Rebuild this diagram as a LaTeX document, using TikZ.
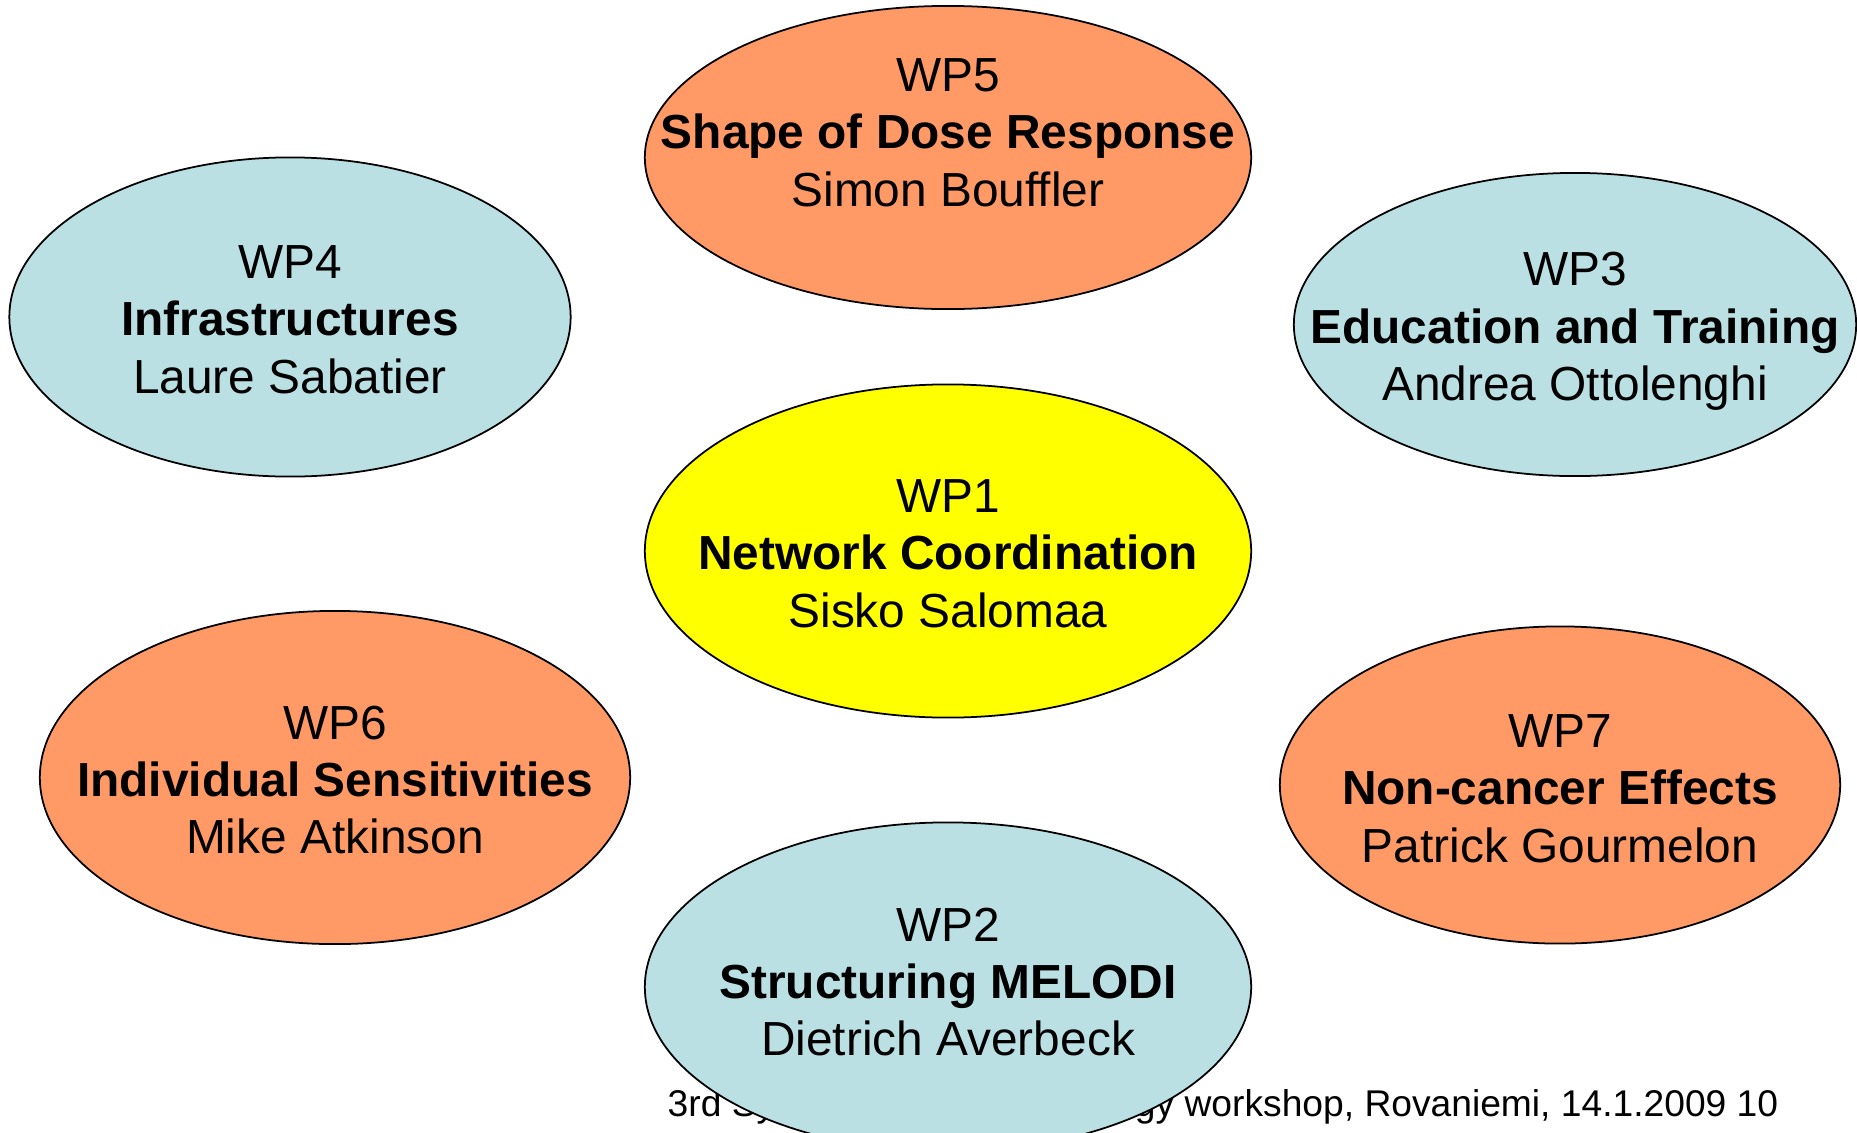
\documentclass[tikz,border=0pt]{standalone}
\usepackage{fontspec}
\setmainfont{Liberation Sans}
\usetikzlibrary{shapes.geometric}
\definecolor{wporange}{HTML}{FF9966}
\definecolor{wpblue}{HTML}{BBE0E3}
\definecolor{wpyellow}{HTML}{FFFF00}
\tikzset{
  wp/.style={ellipse, draw=black, line width=0.5pt, inner sep=0pt},
  wptext/.style={align=center, inner sep=0pt, font=\fontsize{13.6}{16.3}\selectfont},
}

\begin{document}
\begin{tikzpicture}[x=0.01cm,y=-0.01cm]
\useasboundingbox (0,0) rectangle (1857,1133);

% footer, partly under WP2
\node[anchor=base west, inner sep=0pt, font=\fontsize{10.58}{12.7}\selectfont] (foot) at (667,1116) {3rd Systems Radiation Biology workshop, Rovaniemi, 14.1.2009 10};

\node[wp, fill=wporange, minimum width=6.06cm, minimum height=3.03cm] (wp5) at (948,157.5) {};
\node[wptext] (t5) at ([yshift=0.25cm]wp5.center) {WP5\\\textbf{Shape of Dose Response}\\Simon Bouffler};

\node[wp, fill=wpblue, minimum width=5.61cm, minimum height=3.19cm] (wp4) at (290,317) {};
\node[wptext] (t4) at ([yshift=-0.025cm]wp4.center) {WP4\\\textbf{Infrastructures}\\Laure Sabatier};

\node[wp, fill=wpblue, minimum width=5.62cm, minimum height=3.03cm] (wp3) at (1575,324.5) {};
\node[wptext] (t3) at ([yshift=-0.07cm]wp3.center) {WP3\\\textbf{Education and Training}\\Andrea Ottolenghi};

\node[wp, fill=wpyellow, minimum width=6.06cm, minimum height=3.33cm] (wp1) at (948,551) {};
\node[wptext] (t1) at ([yshift=-0.025cm]wp1.center) {WP1\\\textbf{Network Coordination}\\Sisko Salomaa};

\node[wp, fill=wporange, minimum width=5.90cm, minimum height=3.33cm] (wp6) at (335,777.5) {};
\node[wptext] (t6) at ([yshift=-0.025cm]wp6.center) {WP6\\\textbf{Individual Sensitivities}\\Mike Atkinson};

\node[wp, fill=wporange, minimum width=5.60cm, minimum height=3.17cm] (wp7) at (1560,785) {};
\node[wptext] (t7) at ([yshift=-0.035cm]wp7.center) {WP7\\\textbf{Non-cancer Effects}\\Patrick Gourmelon};

\node[wp, fill=wpblue, minimum width=6.06cm, minimum height=3.29cm] (wp2) at (948,987) {};
\node[wptext] (t2) at ([yshift=0.05cm]wp2.center) {WP2\\\textbf{Structuring MELODI}\\Dietrich Averbeck};

\end{tikzpicture}
\end{document}
